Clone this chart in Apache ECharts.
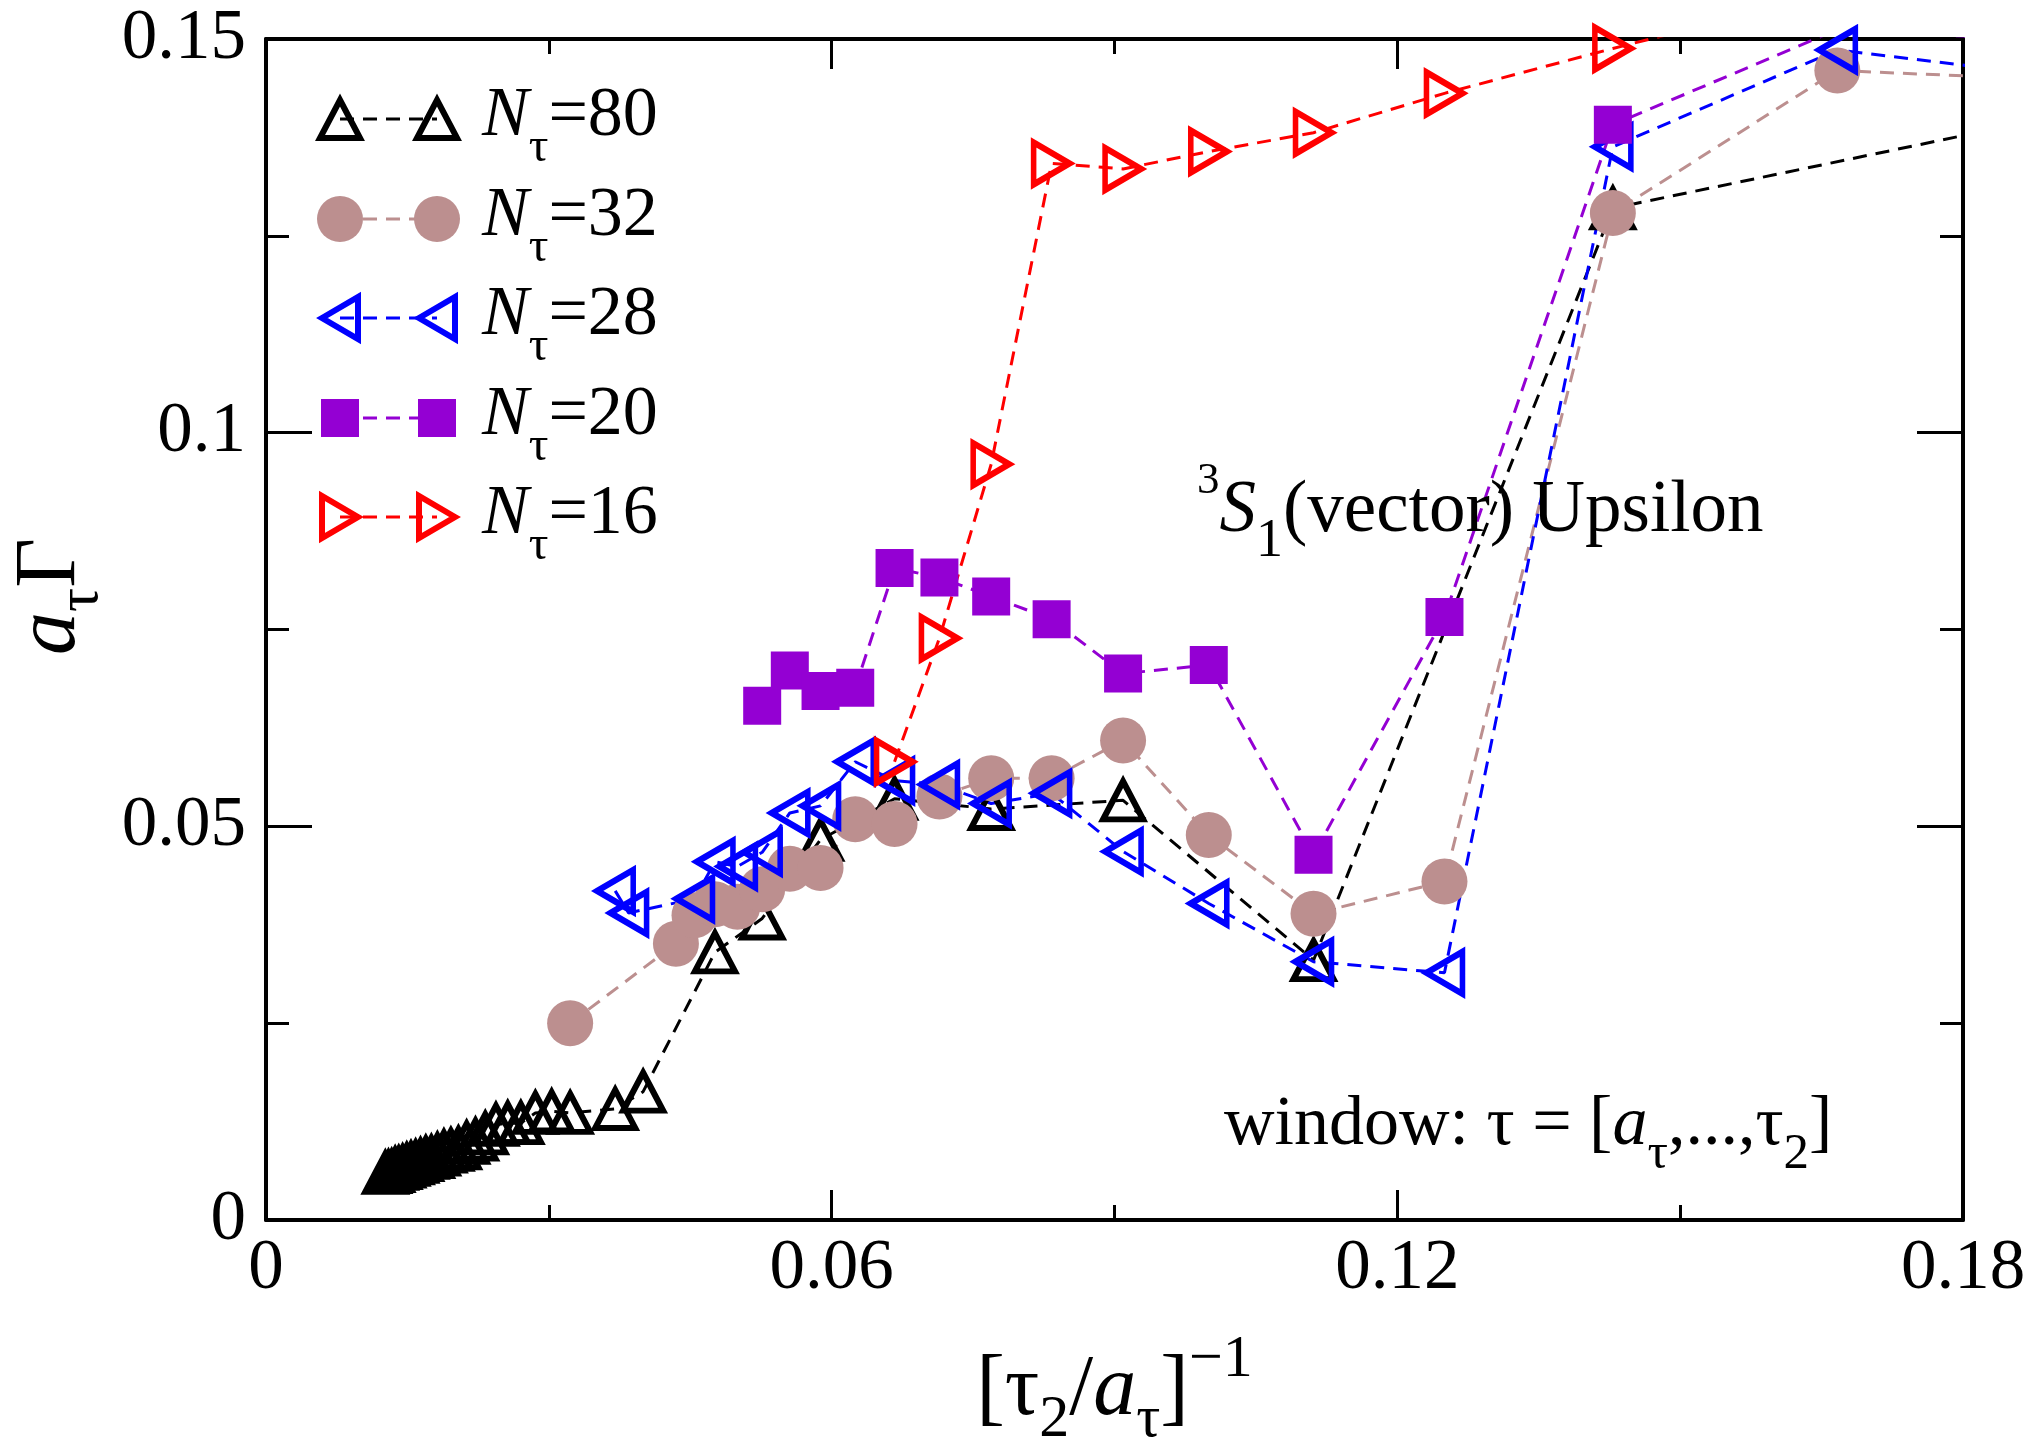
<!DOCTYPE html>
<html><head><meta charset="utf-8">
<script src="https://cdn.jsdelivr.net/npm/echarts@6/dist/echarts.min.js"></script>
<style>html,body{margin:0;padding:0;background:#fff}#c{width:2032px;height:1447px}</style>
</head><body><div id="c"></div>
<script>
const FONT = "'Liberation Serif','Times New Roman',Times,serif";

// ---- data (x = [tau2/a_tau]^-1, y = a_tau Gamma) ----
const xN80 = [0.01266,0.01299,0.01333,0.01370,0.01408,0.01449,0.01493,0.01538,0.01587,0.01639,0.01695,0.01754,0.01818,0.01887,0.01961,0.02041,0.02128,0.02222,0.02326,0.02439,0.02564,0.02703,0.02857,0.03030,0.03226,0.03704,0.04000,0.04762,0.05263,0.05882,0.06667,0.07692,0.09091,0.11111,0.14286,0.20000];
const yN80 = [0.0060,0.0061,0.0062,0.0065,0.0066,0.0068,0.0070,0.0072,0.0074,0.0076,0.0079,0.0080,0.0083,0.0087,0.0089,0.0091,0.0098,0.0102,0.0110,0.0121,0.0123,0.0123,0.0136,0.0138,0.0136,0.0141,0.0163,0.0340,0.0383,0.0483,0.0535,0.0522,0.0533,0.0330,0.1285,0.1427];

const xN32 = [0.03226,0.04348,0.04545,0.04762,0.05000,0.05263,0.05556,0.05882,0.06250,0.06667,0.07143,0.07692,0.08333,0.09091,0.10000,0.11111,0.12500,0.14286,0.16667,0.20000];
const yN32 = [0.0250,0.0351,0.0387,0.0401,0.0398,0.0420,0.0446,0.0447,0.0509,0.0503,0.0538,0.0561,0.0561,0.0609,0.0489,0.0389,0.0430,0.1279,0.1460,0.1443];

const xN28 = [0.03704,0.03846,0.04545,0.04762,0.05000,0.05263,0.05556,0.05882,0.06250,0.06667,0.07143,0.07692,0.08333,0.09091,0.10000,0.11111,0.12500,0.14286,0.16667,0.20000];
const yN28 = [0.0418,0.0390,0.0408,0.0455,0.0449,0.0467,0.0517,0.0526,0.0582,0.0558,0.0553,0.0529,0.0542,0.0468,0.0402,0.0328,0.0314,0.1363,0.1486,0.1438];

const xN20 = [0.05263,0.05556,0.05882,0.06250,0.06667,0.07143,0.07692,0.08333,0.09091,0.10000,0.11111,0.12500,0.14286,0.16667,0.20000];
const yN20 = [0.0653,0.0698,0.0672,0.0676,0.0828,0.0816,0.0792,0.0763,0.0694,0.0705,0.0464,0.0766,0.1391,0.1512,0.1490];

const xN16 = [0.06667,0.07143,0.07692,0.08333,0.09091,0.10000,0.11111,0.12500,0.14286,0.16667,0.20000];
const yN16 = [0.0582,0.0739,0.0960,0.1342,0.1335,0.1357,0.1381,0.1431,0.1488,0.1560,0.1600];

const legendLabels = ['80','32','28','20','16'];
const xRange = [0, 0.18], xStep = 0.06;
const yRange = [0, 0.15], yStep = 0.05;

// ---- styling ----
const C = {k:'#000000', b:'#BC8F8F', u:'#0000FF', p:'#9400D3', r:'#FF0000'};
const DASH = [14, 9];
const BW = 6;

function mk(name, xs, ys, color, symbol, size, rotate, open) {
  return {
    name, type: 'line', clip: true,
    data: xs.map((x, i) => [x, ys[i]]),
    symbol, symbolSize: size, symbolRotate: rotate,
    lineStyle: {color, width: 3, type: DASH},
    itemStyle: open ? {color: 'rgba(0,0,0,0)', borderColor: color, borderWidth: BW, borderJoin: 'miter'}
                    : {color, borderWidth: 0},
    emphasis: {disabled: true}
  };
}

function axisCommon(pos, showLabel, isX) {
  return {
    type: 'value', position: pos,
    min: isX ? xRange[0] : yRange[0], max: isX ? xRange[1] : yRange[1],
    interval: isX ? xStep : yStep,
    axisLine: {show: true, onZero: false, lineStyle: {color: '#000', width: 4}},
    axisTick: {show: true, inside: true, length: isX ? 30 : 46, lineStyle: {color: '#000', width: 3}},
    minorTick: {show: true, splitNumber: 2, length: isX ? 15 : 23, lineStyle: {color: '#000', width: 3}},
    splitLine: {show: false}, minorSplitLine: {show: false},
    axisLabel: {show: showLabel, fontFamily: FONT, fontSize: 71, color: '#000', margin: isX ? 14 : 20}
  };
}

function makeRich(T) {
  const k = T / 68;
  return {
    t: {fontFamily: FONT, fontSize: T, color: '#000', fill: '#000', verticalAlign: 'middle'},
    i: {fontFamily: FONT, fontSize: T, fontStyle: 'italic', color: '#000', fill: '#000', verticalAlign: 'middle'},
    s: {fontFamily: FONT, fontSize: Math.round(50 * k), color: '#000', fill: '#000', verticalAlign: 'middle', padding: [Math.round(56 * k), 0, 0, 0]},
    ls: {fontFamily: FONT, fontSize: Math.round(48 * k), color: '#000', fill: '#000', verticalAlign: 'middle', padding: [Math.round(60 * k), 0, 0, 0]},
    sp: {fontFamily: FONT, fontSize: Math.round(42 * k), color: '#000', fill: '#000', verticalAlign: 'middle', padding: [0, 0, Math.round(58 * k), 0]}
  };
}
const rich70 = makeRich(70), rich73 = makeRich(73);
const TT = 86;
const richTitle = {
  t: {fontFamily: FONT, fontSize: TT, color: '#000', verticalAlign: 'middle'},
  i: {fontFamily: FONT, fontSize: TT, fontStyle: 'italic', color: '#000', verticalAlign: 'middle'},
  s: {fontFamily: FONT, fontSize: 60, color: '#000', verticalAlign: 'middle', padding: [58, 0, 0, 0]},
  sp: {fontFamily: FONT, fontSize: 60, color: '#000', verticalAlign: 'middle', padding: [0, 0, 62, 0]}
};

// ---- legend (drawn as graphic, marker—dash—marker + label) ----
const legendKinds = ['up', 'circle', 'left', 'rect', 'right'];
const legendColors = [C.k, C.b, C.u, C.p, C.r];
const legendY = [119, 219, 318, 418, 517];
function legendMarker(kind, cx, cy, color) {
  const st = {fill: 'none', stroke: color, lineWidth: BW, lineJoin: 'miter'};
  if (kind === 'up') return {type: 'polygon', shape: {points: [[cx, cy - 19], [cx + 20, cy + 19], [cx - 20, cy + 19]]}, style: st};
  if (kind === 'left') return {type: 'polygon', shape: {points: [[cx - 18, cy], [cx + 18, cy - 21], [cx + 18, cy + 21]]}, style: st};
  if (kind === 'right') return {type: 'polygon', shape: {points: [[cx + 18, cy], [cx - 18, cy - 21], [cx - 18, cy + 21]]}, style: st};
  if (kind === 'circle') return {type: 'circle', shape: {cx, cy, r: 23}, style: {fill: color}};
  return {type: 'rect', shape: {x: cx - 19, y: cy - 19, width: 38, height: 38}, style: {fill: color}};
}
const graphic = [];
legendLabels.forEach((lab, k) => {
  const y = legendY[k], col = legendColors[k];
  graphic.push({type: 'line', shape: {x1: 340, y1: y, x2: 437, y2: y}, style: {stroke: col, lineWidth: 3, lineDash: DASH}, z: 10});
  graphic.push(Object.assign(legendMarker(legendKinds[k], 340, y, col), {z: 11}));
  graphic.push(Object.assign(legendMarker(legendKinds[k], 437, y, col), {z: 11}));
  graphic.push({type: 'text', x: 482, y: y - 2, z: 11,
    style: {text: '{i|N}{ls|τ}{t|=' + lab + '}', rich: rich70, fill: '#000', align: 'left', verticalAlign: 'middle', font: '70px ' + FONT}});
});
// annotations
graphic.push({type: 'text', x: 1197, y: 512, z: 11,
  style: {text: '{sp|3}{i|S}{s|1}{t|(vector) Upsilon}', rich: rich73, fill: '#000', align: 'left', verticalAlign: 'middle', font: '73px ' + FONT}});
graphic.push({type: 'text', x: 1224, y: 1126, z: 11,
  style: {text: '{t|window: τ = [}{i|a}{s|τ}{t|,...,τ}{s|2}{t|]}', rich: rich70, fill: '#000', align: 'left', verticalAlign: 'middle', font: '70px ' + FONT}});

const xMain = axisCommon('bottom', true, true);
xMain.name = '{t|[τ}{s|2}{t|/}{i|a}{s|τ}{t|]}{sp|−1}';
xMain.nameLocation = 'middle';
xMain.nameGap = 110;
xMain.nameTextStyle = {rich: richTitle, fontFamily: FONT, fontSize: TT, color: '#000'};

const yMain = axisCommon('left', true, false);
yMain.name = '{i|a}{s|τ}{t|Γ}';
yMain.nameLocation = 'middle';
yMain.nameGap = 150;
yMain.nameTextStyle = {rich: richTitle, fontFamily: FONT, fontSize: TT, color: '#000', padding: [0, 0, 0, 66]};

const chart = echarts.init(document.getElementById('c'), null, {renderer: 'canvas'});
chart.setOption({
  animation: false,
  backgroundColor: '#fff',
  grid: {left: 266, top: 39, width: 1697, height: 1181, containLabel: false, outerBoundsMode: 'none'},
  xAxis: [xMain, axisCommon('top', false, true)],
  yAxis: [yMain, axisCommon('right', false, false)],
  graphic,
  series: [
    mk('N=80', xN80, yN80, C.k, 'triangle', [40, 38], 0, true),
    mk('N=32', xN32, yN32, C.b, 'circle', 46, 0, false),
    mk('N=28', xN28, yN28, C.u, 'triangle', [42, 36], 90, true),
    mk('N=20', xN20, yN20, C.p, 'rect', 38, 0, false),
    mk('N=16', xN16, yN16, C.r, 'triangle', [42, 36], -90, true)
  ]
});
</script></body></html>
